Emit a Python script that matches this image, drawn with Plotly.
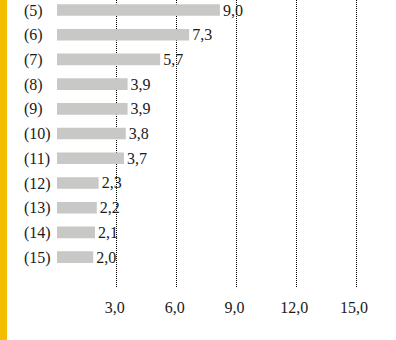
import plotly.graph_objects as go

categories = ["(5)", "(6)", "(7)", "(8)", "(9)", "(10)", "(11)", "(12)", "(13)", "(14)", "(15)"]
values = [9.0, 7.3, 5.7, 3.9, 3.9, 3.8, 3.7, 2.3, 2.2, 2.1, 2.0]
grid_ticks = [3.0, 6.0, 9.0, 12.0, 15.0]

W, H = 396, 340
x_left = 57
FONT = "Liberation Serif"
TXT = "#1a1a1a"

fig = go.Figure()
fig.add_trace(go.Bar(
    y=categories, x=values, orientation="h",
    marker=dict(color="#C8C8C6", line=dict(width=0)),
    width=0.47,
    texttemplate="%{x:.1f}", textposition="outside",
    constraintext="none",
    textfont=dict(family=FONT, size=16, color=TXT),
    cliponaxis=False,
    xaxis="x", yaxis="y",
))
# invisible trace for the gridline axis
fig.add_trace(go.Scatter(x=grid_ticks, y=[categories[0]] * len(grid_ticks),
                         mode="markers", marker=dict(opacity=0),
                         xaxis="x2", yaxis="y", hoverinfo="skip", showlegend=False))

dom0 = x_left / W
fig.update_layout(
    width=W, height=H,
    margin=dict(l=0, r=0, t=0, b=53),
    paper_bgcolor="white", plot_bgcolor="white",
    separators=", ",
    showlegend=False,
    xaxis=dict(domain=[dom0, 1], range=[0, (W - x_left) / 18.1],
               showgrid=False, zeroline=False, showticklabels=False,
               showline=False, ticks=""),
    xaxis2=dict(domain=[dom0, 1], range=[0, (W - x_left) / 19.94],
                overlaying="x", anchor="y", side="bottom",
                tickvals=grid_ticks, tickformat=".1f",
                showgrid=True, gridcolor="black", griddash="1px,1px", gridwidth=1,
                zeroline=False, showline=False,
                ticks="outside", ticklen=6, tickcolor="rgba(0,0,0,0)",
                ticklabelshift=-2,
                tickfont=dict(family=FONT, size=16, color=TXT)),
    yaxis=dict(type="category", range=[11.21, -0.405],
               anchor="free", position=20 / W,
               ticklabelposition="inside",
               showgrid=False, zeroline=False, showline=False, ticks="",
               tickfont=dict(family=FONT, size=16, color=TXT)),
    shapes=[dict(type="rect", xref="paper", yref="paper",
                 x0=0, x1=7 / W, y0=-53 / (H - 53), y1=1,
                 fillcolor="#F4BE00", line=dict(width=0), layer="above")],
)

fig.write_html("out.html")
